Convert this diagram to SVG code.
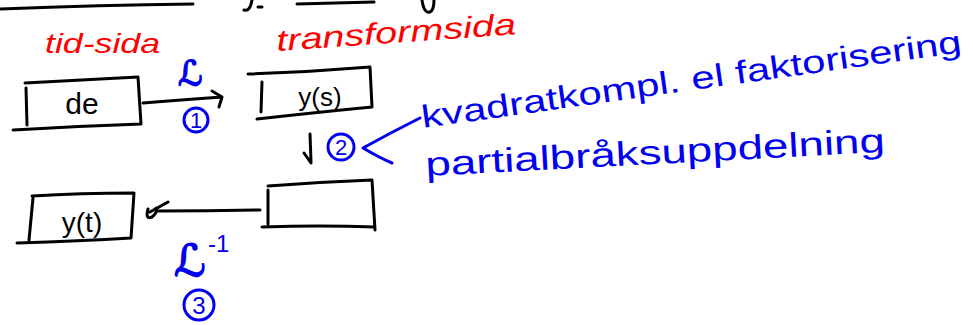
<svg xmlns="http://www.w3.org/2000/svg" width="973" height="325" viewBox="0 0 973 325">
<style>
.ink{fill:none;stroke:#000;stroke-width:3;stroke-linecap:round;stroke-linejoin:round}
.bl{fill:none;stroke:#0000ee;stroke-width:3;stroke-linecap:round;stroke-linejoin:round}
.tk{font-family:"Liberation Sans",sans-serif;fill:#000}
.tb{font-family:"Liberation Sans",sans-serif;fill:#0000ee}
.sl{font-family:"DejaVu Sans","Liberation Sans",sans-serif;fill:#0000ee;stroke:#0000ee;stroke-width:1.5}
.tr{font-family:"Liberation Sans",sans-serif;fill:#ff0000;font-style:italic}
</style>
<rect width="973" height="325" fill="#fff"/>
<g id="fragments">
<path class="ink" d="M0 9 Q100 5 193 4"/>
<path class="ink" d="M297 4 L374 2"/>
<path class="ink" d="M244 10 Q250 12 252 0"/>
<path class="ink" d="M258 7 L262 7"/>
<path class="ink" d="M422 0 Q424 14 430 12 Q434 10 434 0"/>
</g>
<g id="labels-red">
<text class="tr" x="45" y="53" font-size="28" textLength="115" lengthAdjust="spacingAndGlyphs">tid-sida</text>
<text class="tr" x="277" y="51" font-size="30" textLength="240" lengthAdjust="spacingAndGlyphs" transform="rotate(-4 277 51)">transformsida</text>
</g>
<g id="node-de">
<path class="ink" d="M25 83 Q80 80 138 77 L141 124 M13 130 Q80 126 141 124 M26 88 L27 125"/>
<text class="tk" x="82" y="114" font-size="30" text-anchor="middle">de</text>
</g>
<g id="node-ys">
<path class="ink" d="M248 74 Q310 72 370 67 L372 107 Q320 112 257 119 M262 82 L261 112"/>
<text class="tk" x="320" y="106" font-size="26" text-anchor="middle">y(s)</text>
</g>
<g id="node-empty">
<path class="ink" d="M268 186 Q320 182 372 180 L375 230 M262 227 Q320 225 375 227 M268 190 L268 224"/>
</g>
<g id="node-yt">
<path class="ink" d="M32 196 Q80 193 134 193 L131 238 Q80 241 17 243 M33 198 L29 240"/>
<text class="tk" x="82" y="232" font-size="28" text-anchor="middle">y(t)</text>
</g>
<g id="connectors">
<path class="ink" d="M143 103 Q180 100 222 97 M212 91 L222 97 L219 107"/>
<path class="ink" d="M310 134 L311 162 M304 153 L311 163"/>
<path class="ink" d="M260 210 Q210 211 158 211 M168 202 L150 212 M148 209 Q145 220 152 217 Q158 212 156 208"/>
<path class="bl" d="M420 118 Q390 133 363 148 Q380 158 392 163"/>
</g>
<g id="labels-blue">
<text class="sl" x="178" y="85" font-size="34">ℒ</text>
<circle class="bl" cx="196" cy="120" r="12"/>
<text class="tb" x="196" y="128" font-size="22" text-anchor="middle">1</text>
<circle class="bl" cx="341" cy="147" r="13"/>
<text class="tb" x="341" y="155" font-size="22" text-anchor="middle">2</text>
<text class="sl" x="174" y="276" font-size="44">ℒ</text>
<text class="tb" x="208" y="252" font-size="24">-1</text>
<circle class="bl" cx="199" cy="305" r="15"/>
<text class="tb" x="199" y="314" font-size="24" text-anchor="middle">3</text>
<text class="tb" x="423" y="128" font-size="32" textLength="545" lengthAdjust="spacingAndGlyphs" transform="rotate(-8 423 128)">kvadratkompl. el faktorisering</text>
<text class="tb" x="426" y="176" font-size="34" textLength="460" lengthAdjust="spacingAndGlyphs" transform="rotate(-3 426 176)">partialbråksuppdelning</text>
</g>
</svg>
